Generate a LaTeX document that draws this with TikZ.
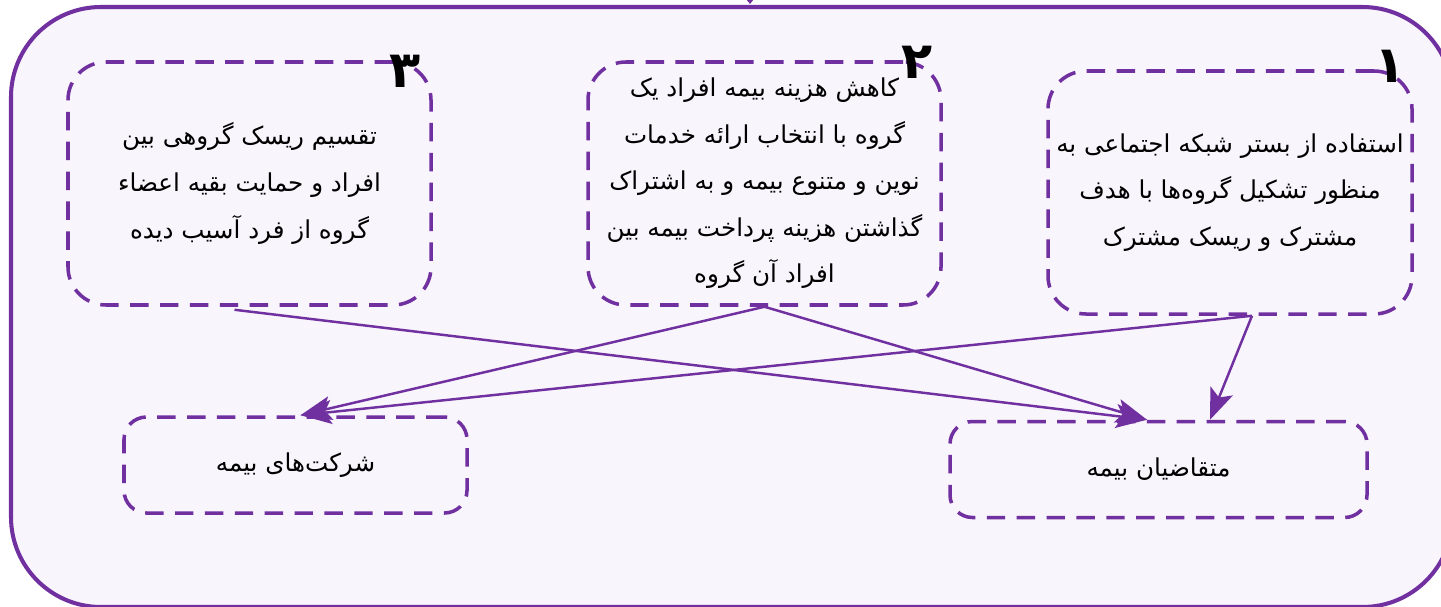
\documentclass[tikz,border=0pt]{standalone}
\usepackage{fontspec}
\newfontfamily\arabicfont[Script=Arabic]{DejaVu Sans}
\TeXXeTstate=1
\usetikzlibrary{arrows.meta}

\definecolor{bandPurple}{HTML}{7030A0}
\definecolor{bgLilac}{HTML}{F8F5FC}

% one right-to-left line
\newcommand{\fa}[1]{\beginR #1\endR}

\tikzset{
  ideabox/.style={draw=bandPurple, line width=2pt, dash pattern=on 10.5pt off 6.5pt,
    rounded corners=0.76cm, minimum height=4.86cm, inner xsep=0pt, align=center, text=black,
    font=\arabicfont\fontsize{14}{26.5}\selectfont},
  sidebox/.style={ideabox, rounded corners=0.45cm, minimum height=1.92cm},
  flow/.style={draw=bandPurple, line width=1.4pt, -{Stealth[length=0.62cm,width=0.48cm,inset=0.14cm]}},
  stepnum/.style={text=black, font=\arabicfont\bfseries\fontsize{29}{29}\selectfont}
}

\begin{document}
\begin{tikzpicture}
  \useasboundingbox (0,0) rectangle (28.82,-12.12);
  \draw[draw=bandPurple, fill=bgLilac, line width=2.3pt, rounded corners=1.8cm]
    (0.22,-0.14) rectangle (29.05,-12.14);

  % arrow coming in from above
  \coordinate (topin) at (15,0.5);
  \coordinate (frametop) at (15,-0.08);
  \draw[bandPurple, line width=1.2pt, -{Triangle[width=0.34cm,length=0.22cm]}] (topin) -- (frametop);

  % the three ideas
  \node[ideabox, minimum width=7.28cm] (b1) at (24.6,-3.85)
    {\fa{استفاده از بستر شبکه اجتماعی به}\\\fa{منظور تشکیل گروه‌ها با هدف}\\\fa{مشترک و ریسک مشترک}};
  \node[ideabox, minimum width=7.06cm] (b2) at (15.29,-3.67)
    {\fa{کاهش هزینه بیمه افراد یک}\\\fa{گروه با انتخاب ارائه خدمات}\\\fa{نوین و متنوع بیمه و به اشتراک}\\\fa{گذاشتن هزینه پرداخت بیمه بین}\\\fa{افراد آن گروه}};
  \node[ideabox, minimum width=7.26cm] (b3) at (4.99,-3.67)
    {\fa{تقسیم ریسک گروهی بین}\\\fa{افراد و حمایت بقیه اعضاء}\\\fa{گروه از فرد آسیب دیده}};

  \node[stepnum] (n1) at (27.8,-1.32) {۱};
  \node[stepnum] (n2) at (18.34,-1.24) {۲};
  \node[stepnum] (n3) at (8.1,-1.42) {۳};

  % the two parties
  \node[sidebox, minimum width=6.86cm] (b4) at (5.91,-9.30) {\fa{شرکت‌های بیمه}};
  \node[sidebox, minimum width=8.34cm] (b5) at (23.17,-9.39) {\fa{متقاضیان بیمه}};

  \draw[flow] ([xshift=-0.3cm,yshift=-0.06cm]b3.south) -- ([xshift=-0.23cm]b5.north);
  \draw[flow] (b2.south) -- ([xshift=0.1cm]b4.north);
  \draw[flow] (b2.south) -- ([xshift=-0.23cm]b5.north);
  \draw[flow] ([xshift=0.44cm]b1.south) -- ([xshift=0.1cm]b4.north);
  \draw[flow] ([xshift=0.44cm]b1.south) -- ([xshift=1.03cm]b5.north);
\end{tikzpicture}
\end{document}
